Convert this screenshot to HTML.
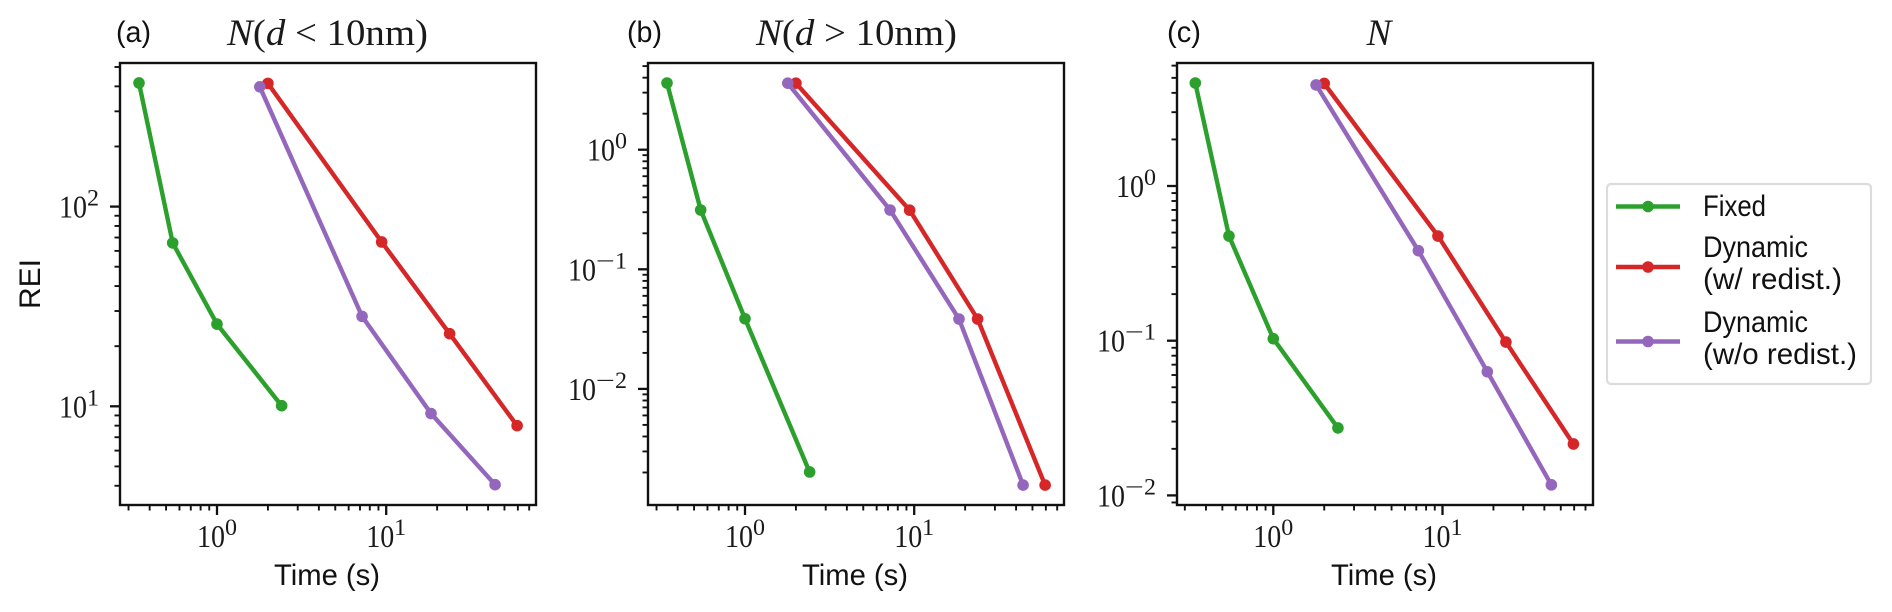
<!DOCTYPE html>
<html lang="en">
<head>
<meta charset="utf-8">
<title>REI versus time</title>
<style>
html,body{margin:0;padding:0;background:#fff;}
body{width:1892px;height:612px;overflow:hidden;}
svg{display:block;}
.serif{font-family:"Liberation Serif",serif;fill:#1a1a1a;}
.sans{font-family:"Liberation Sans",sans-serif;fill:#111;}
</style>
</head>
<body>
<svg id="chart" width="1892" height="612" viewBox="0 0 1892 612" xmlns="http://www.w3.org/2000/svg">
  <rect x="0" y="0" width="1892" height="612" fill="#fff"/>
  <text class="sans" x="116" y="42" font-size="30" textLength="35" lengthAdjust="spacingAndGlyphs">(a)</text>
  <text class="sans" x="627" y="42" font-size="30" textLength="35" lengthAdjust="spacingAndGlyphs">(b)</text>
  <text class="sans" x="1167" y="42" font-size="30" textLength="34" lengthAdjust="spacingAndGlyphs">(c)</text>
  <text class="serif" x="227" y="45" font-size="37" textLength="201" lengthAdjust="spacingAndGlyphs"><tspan font-style="italic">N</tspan>(<tspan font-style="italic">d</tspan> &lt; 10nm)</text>
  <text class="serif" x="756" y="45" font-size="37" textLength="201" lengthAdjust="spacingAndGlyphs"><tspan font-style="italic">N</tspan>(<tspan font-style="italic">d</tspan> &gt; 10nm)</text>
  <text class="serif" x="1379" y="45" font-size="37" text-anchor="middle" font-style="italic">N</text>
  <text class="sans" x="0" y="0" font-size="30" text-anchor="middle" transform="translate(40 284) rotate(-90)">REI</text>
  <g>
    <rect x="1607" y="184" width="264" height="200" rx="4" fill="#fff" stroke="#dcdcdc" stroke-width="2.2"/>
    <g>
      <line x1="1616" x2="1680" y1="206.5" y2="206.5" stroke="#2ca02c" stroke-width="4.4"/>
      <circle cx="1648" cy="206.5" r="5.8" fill="#2ca02c"/>
      <text class="sans" x="1703" y="216" font-size="30" textLength="63" lengthAdjust="spacingAndGlyphs">Fixed</text>
    </g>
    <g>
      <line x1="1616" x2="1680" y1="267" y2="267" stroke="#d62728" stroke-width="4.4"/>
      <circle cx="1648" cy="267" r="5.8" fill="#d62728"/>
      <text class="sans" x="1703" y="257" font-size="30" textLength="105" lengthAdjust="spacingAndGlyphs">Dynamic</text>
      <text class="sans" x="1703" y="289" font-size="30" textLength="139" lengthAdjust="spacingAndGlyphs">(w/ redist.)</text>
    </g>
    <g>
      <line x1="1616" x2="1680" y1="341.5" y2="341.5" stroke="#9467bd" stroke-width="4.4"/>
      <circle cx="1648" cy="341.5" r="5.8" fill="#9467bd"/>
      <text class="sans" x="1703" y="332" font-size="30" textLength="105" lengthAdjust="spacingAndGlyphs">Dynamic</text>
      <text class="sans" x="1703" y="364" font-size="30" textLength="154" lengthAdjust="spacingAndGlyphs">(w/o redist.)</text>
    </g>
  </g>
</svg>
<script>
// Shared time values (s)
const timeFixed = [0.346, 0.547, 1.0, 2.41];
const timeRedist = [2.0, 9.4, 23.7, 59.4];
const timeNoRedist = [1.79, 7.2, 18.4, 44];

// Panel (a) N(d<10nm)
const aFixed = [416, 65.8, 25.8, 10.07];
const aRedist = [414, 66.5, 23.1, 8.0];
const aNoRedist = [398, 28.2, 9.2, 4.05];
// Panel (b) N(d>10nm)
const bFixed = [3.61, 0.313, 0.0386, 0.00202];
const bRedist = [3.6, 0.312, 0.0384, 0.00157];
const bNoRedist = [3.6, 0.313, 0.0384, 0.00157];
// Panel (c) N
const cFixed = [4.63, 0.475, 0.103, 0.0273];
const cRedist = [4.6, 0.475, 0.098, 0.0215];
const cNoRedist = [4.5, 0.382, 0.063, 0.0117];

// Tick labels: exponents of decades
const xTickExponents = [0, 1];
const aYTickExponents = [2, 1];
const bYTickExponents = [0, -1, -2];
const cYTickExponents = [0, -1, -2];
const minorMultipliers = [2, 3, 4, 5, 6, 7, 8, 9];

const SVGNS = 'http://www.w3.org/2000/svg';
const svg = document.getElementById('chart');

function mk(tag, attrs, parent) {
  const el = document.createElementNS(SVGNS, tag);
  for (const k in attrs) el.setAttribute(k, attrs[k]);
  parent.appendChild(el);
  return el;
}

function drawExpLabel(parent, startX, baseY, exp) {
  const base = mk('text', {class: 'serif', x: startX, y: baseY, 'font-size': 32, textLength: 28, lengthAdjust: 'spacingAndGlyphs'}, parent);
  base.textContent = '10';
  let supX = startX + 28;
  if (exp < 0) {
    const minus = mk('text', {class: 'serif', x: supX, y: baseY - 12, 'font-size': 23, textLength: 19, lengthAdjust: 'spacingAndGlyphs'}, parent);
    minus.textContent = '\u2212';
    supX += 19;
  }
  const supEl = mk('text', {class: 'serif', x: supX, y: baseY - 12, 'font-size': 23, textLength: 12, lengthAdjust: 'spacingAndGlyphs'}, parent);
  supEl.textContent = String(Math.abs(exp));
}

function expWidth(exp) { return 28 + (exp < 0 ? 31 : 12); }

function drawPanel(cfg) {
  const g = mk('g', {}, svg);
  
  
  const x = t => cfg.x0 + 169.2 * Math.log10(t);
  const y = v => cfg.y0 - cfg.decade * Math.log10(v);
  const L = cfg.left, R = cfg.left + 416, T = 63, B = 505;

  const xTicks = mk('g', {stroke: '#111', 'stroke-width': 1.9}, g);
  
  
  for (let e = -1; e <= 1; e++) {
    minorMultipliers.forEach(m => {
      const px = x(m * Math.pow(10, e));
      if (px > L && px < R) mk('line', {x1: px, x2: px, y1: B, y2: B + 5.5}, xTicks);
    });
  }
  xTickExponents.forEach(e => {
    const px = x(Math.pow(10, e));
    mk('line', {x1: px, x2: px, y1: B, y2: B + 10, 'stroke-width': 2.3}, xTicks);
    const lab = mk('g', {}, g);
    
    
    drawExpLabel(lab, px - 20, 547, e);
  });

  const yTicks = mk('g', {stroke: '#111', 'stroke-width': 1.9}, g);
  
  
  for (let e = -4; e <= 3; e++) {
    minorMultipliers.forEach(m => {
      const py = y(m * Math.pow(10, e));
      if (py > T && py < B) mk('line', {x1: L - 5.5, x2: L, y1: py, y2: py}, yTicks);
    });
  }
  cfg.yExps.forEach(e => {
    const py = y(Math.pow(10, e));
    mk('line', {x1: L - 10, x2: L, y1: py, y2: py, 'stroke-width': 2.3}, yTicks);
    const lab = mk('g', {}, g);
    
    
    drawExpLabel(lab, L - 21 - expWidth(e), py + 11, e);
  });

  cfg.series.forEach(s => {
    const sg = mk('g', {}, g);
    
    
    const pts = s.t.map((t, i) => x(t).toFixed(1) + ',' + y(s.v[i]).toFixed(1)).join(' ');
    mk('polyline', {points: pts, fill: 'none', stroke: s.color, 'stroke-width': 4.4, 'stroke-linejoin': 'round'}, sg);
    s.t.forEach((t, i) => {
      mk('circle', {cx: x(t), cy: y(s.v[i]), r: 5.8, fill: s.color}, sg);
    });
  });

  const frame = mk('rect', {x: L, y: T, width: 416, height: B - T, fill: 'none', stroke: '#111', 'stroke-width': 2.4}, g);
  
  

  const xt = mk('text', {class: 'sans', x: (L + R) / 2 - 1, y: 585, 'font-size': 30, 'text-anchor': 'middle', textLength: 106, lengthAdjust: 'spacingAndGlyphs'}, g);
  
  
  xt.textContent = 'Time (s)';
}

const GREEN = '#2ca02c', RED = '#d62728', PURPLE = '#9467bd';

drawPanel({id: 'a', left: 120, x0: 217, y0: 606, decade: 199.7, yExps: aYTickExponents, series: [
  {name: 'fixed', color: GREEN, t: timeFixed, v: aFixed},
  {name: 'dynamic-redist', color: RED, t: timeRedist, v: aRedist},
  {name: 'dynamic-no-redist', color: PURPLE, t: timeNoRedist, v: aNoRedist}
]});
drawPanel({id: 'b', left: 648, x0: 745, y0: 149.7, decade: 119.6, yExps: bYTickExponents, series: [
  {name: 'fixed', color: GREEN, t: timeFixed, v: bFixed},
  {name: 'dynamic-redist', color: RED, t: timeRedist, v: bRedist},
  {name: 'dynamic-no-redist', color: PURPLE, t: timeNoRedist, v: bNoRedist}
]});
drawPanel({id: 'c', left: 1177, x0: 1273.3, y0: 186, decade: 154.7, yExps: cYTickExponents, series: [
  {name: 'fixed', color: GREEN, t: timeFixed, v: cFixed},
  {name: 'dynamic-redist', color: RED, t: timeRedist, v: cRedist},
  {name: 'dynamic-no-redist', color: PURPLE, t: timeNoRedist, v: cNoRedist}
]});
</script>
</body>
</html>
